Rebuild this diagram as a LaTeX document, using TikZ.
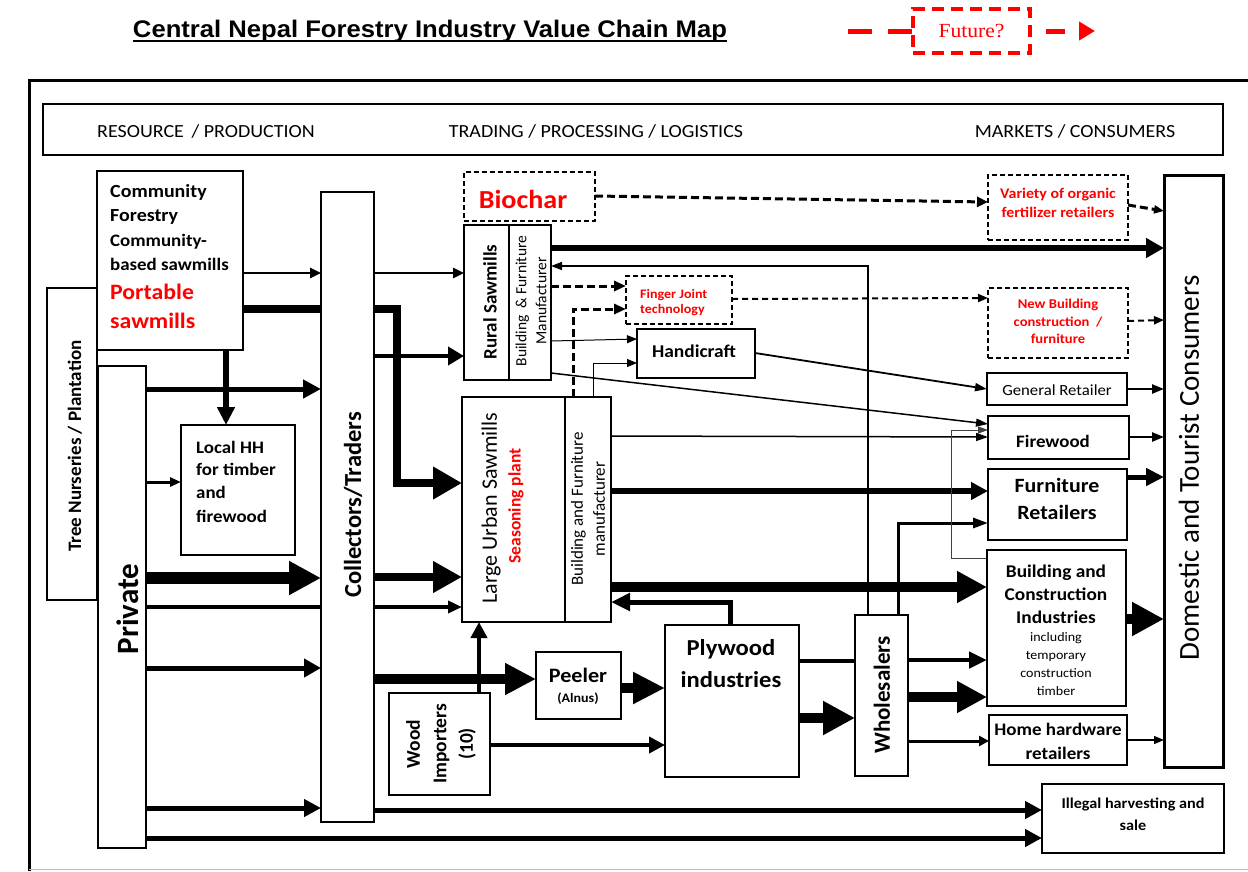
\documentclass[tikz,border=0pt]{standalone}
\usepackage{graphicx}
\usepackage{fontspec}
\setmainfont{Carlito}[FakeStretch=1.08]
\newfontfamily\rotf{Carlito}
\newfontfamily\ttlf{Liberation Sans}
\newfontfamily\futf{Liberation Serif}[FakeStretch=1.08]
\usetikzlibrary{arrows.meta}
\pgfdeclarelayer{bg}
\pgfsetlayers{bg,main}
\definecolor{rd}{RGB}{255,0,0}
\newcommand{\myB}[1]{\bfseries\fontsize{#1}{#1}\selectfont}
\newcommand{\myR}[1]{\mdseries\fontsize{#1}{#1}\selectfont}
\newcommand{\rotB}[2]{\rotf\bfseries\fontsize{#1}{#2}\selectfont}
\newcommand{\rotR}[2]{\rotf\mdseries\fontsize{#1}{#2}\selectfont}
\begin{document}
\begin{tikzpicture}[x=1pt,y=-1pt,
  bx/.style={draw, line width=2pt, fill=white, inner sep=0pt, outer sep=0pt, anchor=north west},
  dbx/.style={bx, line width=1.8pt, dash pattern=on 5pt off 3pt},
  tx/.style={inner sep=0pt, anchor=base},
  txl/.style={inner sep=0pt, anchor=base west},
  rtx/.style={inner sep=0pt, rotate=90, align=center},
  ar/.style n args={3}{line width=#1, line join=miter, -{Triangle[length=#2,width=#3]}},
  dthick/.style={line width=3pt, dash pattern=on 8pt off 4pt, -{Triangle[length=12pt,width=10pt]}},
  dthin/.style={line width=2pt, dash pattern=on 6pt off 4pt, -{Triangle[length=10pt,width=8pt]}}
]
\useasboundingbox (0,0) rectangle (1248,871);

% ---------- title and legend ----------
\node[tx] (title) at (430,37) {\resizebox{594pt}{\height}{\ttlf\bfseries\fontsize{24}{24}\selectfont Central Nepal Forestry Industry Value Chain Map}};
\draw[line width=2pt] (title.south west |- 0,41) -- (title.south east |- 0,41);

\node[draw=rd, line width=4pt, dash pattern=on 12pt off 7pt, minimum width=117, minimum height=44, anchor=north west, inner sep=0pt, outer sep=0pt] (fut) at (913,9) {};
\node[inner sep=0pt, text=rd, font=\futf\fontsize{20}{20}\selectfont] (futT) at (fut.center) {Future?};
\coordinate (futL) at (848,31);
\coordinate (futR) at (1095,31);
\draw[rd, line width=5pt, dash pattern=on 24pt off 16pt] (futL) -- (fut.west |- futL);
\draw[rd, line width=5pt, dash pattern=on 0pt off 16pt on 19pt off 30pt, -{Triangle[length=16pt,width=18pt]}] (fut.east |- futR) -- (futR);

% ---------- frame ----------
\coordinate (frTR) at (1248,80);
\coordinate (frTL) at (29,80);
\coordinate (frBL) at (29,871);
\draw[line width=3pt] (frTR) -- (frTL) -- (frBL);
\coordinate (bgL) at (29,869.5);
\coordinate (bgR) at (1248,869.5);
\draw[black!25, line width=1pt] (bgL) -- (bgR);

% ---------- header ----------
\node[bx, line width=2.5pt, minimum width=1180, minimum height=51] (hdr) at (43,104) {};
\node[tx, font=\myR{18.5}] (h1) at (206,137) {RESOURCE \,/ PRODUCTION};
\node[tx, font=\myR{18.5}] (h2) at (596,137) {TRADING / PROCESSING / LOGISTICS};
\node[tx, font=\myR{18.5}] (h3) at (1075,137) {MARKETS / CONSUMERS};

% ---------- boxes ----------
\node[bx, minimum width=50, minimum height=312] (tree) at (47,288) {};
\node[bx, minimum width=146, minimum height=179] (comm) at (97,171) {};
\node[bx, minimum width=48, minimum height=482] (priv) at (98,366) {};
\node[bx, minimum width=114, minimum height=130] (lhh) at (181,425) {};
\node[bx, line width=2.5pt, minimum width=53, minimum height=630] (coll) at (321,192) {};
\node[dbx, minimum width=131, minimum height=49] (bio) at (464,172) {};
\node[bx, minimum width=45, minimum height=155] (rs) at (464,225) {};
\node[bx, minimum width=42, minimum height=155] (rsb) at (509,225) {};
\node[dbx, minimum width=106, minimum height=48] (fj) at (626,276) {};
\node[bx, minimum width=118, minimum height=49] (hc) at (637,329) {};
\node[bx, line width=2.5pt, minimum width=103, minimum height=225] (lus) at (462,397) {};
\node[bx, line width=2.5pt, minimum width=46, minimum height=225] (lusb) at (565,397) {};
\node[bx, minimum width=85, minimum height=67] (peel) at (536,652) {};
\node[bx, minimum width=134, minimum height=152] (ply) at (665,625) {};
\node[bx, minimum width=101, minimum height=102] (wi) at (389,693) {};
\node[bx, minimum width=53, minimum height=161] (whs) at (855,615) {};
\node[dbx, minimum width=140, minimum height=65] (var) at (988,175) {};
\node[dbx, minimum width=140, minimum height=70] (nb) at (988,288) {};
\node[bx, minimum width=140, minimum height=32] (gr) at (987,373) {};
\node[bx, minimum width=141, minimum height=43] (fw) at (988,416) {};
\node[bx, minimum width=139, minimum height=71] (fr) at (988,469) {};
\node[bx, minimum width=139, minimum height=156] (bc) at (987,550) {};
\node[bx, minimum width=138, minimum height=50] (hh) at (989,715) {};
\node[bx, line width=3pt, minimum width=59, minimum height=592] (dom) at (1164,175) {};
\node[bx, minimum width=182, minimum height=69] (ill) at (1042,784) {};

% ---------- texts ----------
\node[rtx, font=\rotB{19}{19}] (treeT) at (75,446) {Tree Nurseries / Plantation};
\node[txl, font=\myB{18.5}] (c1) at (110,197) {Community};
\node[txl, font=\myB{18.5}] (c2) at (110,221) {Forestry};
\node[txl, font=\myB{17.5}] (c3) at (110,246) {Community-};
\node[txl, font=\myB{17.5}] (c4) at (110,270) {based sawmills};
\node[txl, font=\myB{22}, text=rd] (c5) at (110,299) {Portable};
\node[txl, font=\myB{22}, text=rd] (c6) at (110,328) {sawmills};
\node[rtx, font=\rotB{31}{31}] (privT) at (128,609) {Private};
\node[txl, font=\myB{17.5}] (l1) at (196,453) {Local HH};
\node[txl, font=\myB{17.5}] (l2) at (196,475) {for timber};
\node[txl, font=\myB{17.5}] (l3) at (196,498) {and};
\node[txl, font=\myB{17.5}] (l4) at (196,522) {firewood};
\node[rtx, font=\rotB{24.5}{24.5}] (collT) at (353,505) {Collectors/Traders};
\node[inner sep=0pt, font=\myB{26}, text=rd] (bioT) at (523,199) {Biochar};
\node[rtx, font=\rotB{19}{19}] (rsT) at (490,302) {Rural Sawmills};
\node[rtx, font=\rotR{15.5}{20}] (rsbT) at (531,301) {Building \ \&\ Furniture\\Manufacturer};
\node[txl, font=\myB{13}, text=rd] (fj1) at (640,298) {Finger Joint};
\node[txl, font=\myB{13}, text=rd] (fj2) at (640,313) {technology};
\node[tx, font=\myB{18}] (hcT) at (694,357) {Handicraft};
\node[rtx, font=\rotR{22}{22}] (lusT) at (491,508) {Large Urban Sawmills};
\node[rtx, font=\rotB{17.5}{17.5}, text=rd] (seaT) at (516,506) {Seasoning plant};
\node[rtx, font=\rotR{17}{22}] (lusbT) at (588,509) {Building and Furniture\\manufacturer};
\node[tx, font=\myB{20.5}] (peT) at (578,682) {Peeler};
\node[tx, font=\myB{13}] (peT2) at (578,702) {(Alnus)};
\node[tx, font=\myB{22.8}] (pl1) at (731,655) {Plywood};
\node[tx, font=\myB{22.8}] (pl2) at (731,687) {industries};
\node[rtx, font=\rotB{19.5}{26.5}] (wiT) at (441,744) {Wood\\Importers\\(10)};
\node[rtx, font=\rotB{23}{23}] (whsT) at (882,695) {Wholesalers};
\node[tx, font=\myB{14.7}, text=rd] (v1) at (1058,198) {Variety of organic};
\node[tx, font=\myB{14.7}, text=rd] (v2) at (1058,217) {fertilizer retailers};
\node[tx, font=\myB{13.5}, text=rd] (n1) at (1058,308) {New Building};
\node[tx, font=\myB{13.5}, text=rd] (n2) at (1058,326) {construction \ /};
\node[tx, font=\myB{13.5}, text=rd] (n3) at (1058,343) {furniture};
\node[tx, font=\myR{15.5}] (grT) at (1057,395) {General Retailer};
\node[tx, font=\myB{17.5}] (fwT) at (1053,447) {Firewood};
\node[tx, font=\myB{20.3}] (fr1) at (1057,492) {Furniture};
\node[tx, font=\myB{20.3}] (fr2) at (1057,519) {Retailers};
\node[tx, font=\myB{17.9}] (b1) at (1056,577) {Building and};
\node[tx, font=\myB{17.9}] (b2) at (1056,600) {Construction};
\node[tx, font=\myB{17.9}] (b3) at (1056,623) {Industries};
\node[tx, font=\myR{13}] (b4) at (1056,641) {including};
\node[tx, font=\myR{13}] (b5) at (1056,659) {temporary};
\node[tx, font=\myR{13}] (b6) at (1056,677) {construction};
\node[tx, font=\myR{13}] (b7) at (1056,695) {timber};
\node[tx, font=\myB{17.6}] (hh1) at (1058,735) {Home hardware};
\node[tx, font=\myB{17.6}] (hh2) at (1058,759) {retailers};
\node[rtx, font=\rotR{29}{29}] (domT) at (1189,468) {Domestic and Tourist Consumers};
\node[tx, font=\myB{15}] (il1) at (1133,808) {Illegal harvesting and};
\node[tx, font=\myB{15}] (il2) at (1133,830) {sale};

% ---------- connectors ----------
\begin{pgfonlayer}{bg}
\draw[ar={2.5pt}{11pt}{10pt}] (comm.east |- 0,273) -- (coll.west |- 0,273);
\draw[ar={2.5pt}{11pt}{10pt}] (coll.east |- 0,273) -- (rs.west |- 0,273);
\draw[ar={8pt}{29pt}{31pt}] (comm.east |- 0,309) -- (397,309) -- (397,483) -- (lus.west |- 0,483);
\draw[ar={4.5pt}{16pt}{18pt}] (coll.east |- 0,356) -- (rs.west |- 0,356);
\draw[ar={5pt}{18pt}{18pt}] (priv.east |- 0,389) -- (coll.west |- 0,389);
\draw[ar={6pt}{18pt}{17pt}] (comm.south -| 226,0) -- (lhh.north -| 226,0);
\draw[ar={3pt}{11pt}{9pt}] (priv.east |- 0,482) -- (lhh.west |- 0,482);
\draw[ar={12pt}{32pt}{32pt}] (priv.east |- 0,578) -- (coll.west |- 0,578);
\draw[ar={8pt}{29pt}{30pt}] (coll.east |- 0,577) -- (lus.west |- 0,577);
\draw[ar={3.5pt}{14pt}{12pt}] (priv.east |- 0,607) -- (lus.west |- 0,607);
\draw[ar={5pt}{17pt}{18pt}] (priv.east |- 0,668) -- (coll.west |- 0,668);
\draw[ar={10pt}{31pt}{30pt}] (coll.east |- 0,679) -- (peel.west |- 0,679);
\draw[ar={4pt}{16pt}{16pt}] (wi.north -| 479,0) -- (lus.south -| 479,0);
\draw[ar={4.5pt}{16pt}{16pt}] (wi.east |- 0,745) -- (ply.west |- 0,745);
\draw[ar={5pt}{17pt}{17pt}] (priv.east |- 0,808) -- (coll.west |- 0,808);
\draw[ar={5pt}{17pt}{17pt}] (coll.east |- 0,810) -- (ill.west |- 0,810);
\draw[ar={5pt}{17pt}{17pt}] (priv.east |- 0,838) -- (ill.west |- 0,838);
\draw[ar={10pt}{32pt}{30pt}] (peel.east |- 0,688) -- (ply.west |- 0,688);
\draw[ar={5pt}{19pt}{17pt}] (ply.north -| 730,0) -- (730,602) -- (lusb.east |- 0,602);
\draw[ar={10pt}{30pt}{30pt}] (lusb.east |- 0,587) -- (bc.west |- 0,587);
\draw[ar={5.5pt}{17pt}{17pt}] (lusb.east |- 0,491) -- (fr.west |- 0,491);
\draw[ar={1.5pt}{12pt}{8pt}] (lusb.east |- 0,436) -- (fw.west |- 0,437);
\draw[ar={1.5pt}{12pt}{8pt}] (rsb.east |- 0,373) -- (fw.west |- 0,424);
\draw[ar={1.8pt}{12pt}{8pt}] (hc.east |- 0,353) -- (gr.west |- 0,389);
\draw[ar={1pt}{10pt}{8pt}] (rsb.east |- 0,341) -- (hc.west |- 0,339);
\draw[ar={1pt}{10pt}{8pt}] (lusb.north -| 593,0) -- (593,363) -- (hc.west |- 0,363);
\draw[dthick] (rsb.east |- 0,286) -- (fj.west |- 0,286);
\draw[dthick] (lusb.north -| 573,0) -- (573,309) -- (fj.west |- 0,309);
\draw[dthin] (fj.east |- 0,299) -- (nb.west |- 0,298);
\draw[dthin] (nb.east |- 0,321) -- (dom.west |- 0,320);
\draw[dthick, -{Triangle[length=11pt,width=10pt]}] (bio.east |- 0,196) -- (var.west |- 0,202);
\draw[dthick, -{Triangle[length=10pt,width=8pt]}] (var.east |- 0,205) -- (dom.west |- 0,211);
\draw[ar={6.5pt}{18pt}{19pt}] (rsb.east |- 0,248) -- (dom.west |- 0,248);
\draw[ar={1.5pt}{11pt}{8pt}] (whs.north -| 868,0) -- (868,266) -- (rsb.east |- 0,266);
\draw[ar={3pt}{15pt}{10pt}] (whs.north -| 898,0) -- (898,523) -- (fr.west |- 0,523);
\draw[ar={0.9pt}{10pt}{7pt}, black!75] (bc.west |- 0,558) -- (951,558) -- (951,430) -- (fw.west |- 0,430);
\draw[line width=4.5pt] (ply.east |- 0,661) -- (whs.west |- 0,661);
\draw[ar={4.5pt}{18pt}{16pt}] (whs.east |- 0,660) -- (bc.west |- 0,660);
\draw[ar={10pt}{32pt}{32pt}] (ply.east |- 0,718) -- (whs.west |- 0,718);
\draw[ar={10pt}{30pt}{30pt}] (whs.east |- 0,697) -- (bc.west |- 0,697);
\draw[ar={3pt}{10pt}{10pt}] (whs.east |- 0,741) -- (hh.west |- 0,741);
\draw[ar={1.2pt}{10pt}{8pt}] (hh.east |- 0,740) -- (dom.west |- 0,740);
\draw[ar={10pt}{32pt}{32pt}] (bc.east |- 0,619) -- (dom.west |- 0,619);
\draw[ar={5pt}{18pt}{17pt}] (fr.east |- 0,477) -- (dom.west |- 0,477);
\draw[ar={2.5pt}{12pt}{9pt}] (fw.east |- 0,437) -- (dom.west |- 0,437);
\draw[ar={2.5pt}{12pt}{9pt}] (gr.east |- 0,389) -- (dom.west |- 0,389);
\end{pgfonlayer}
\end{tikzpicture}
\end{document}
